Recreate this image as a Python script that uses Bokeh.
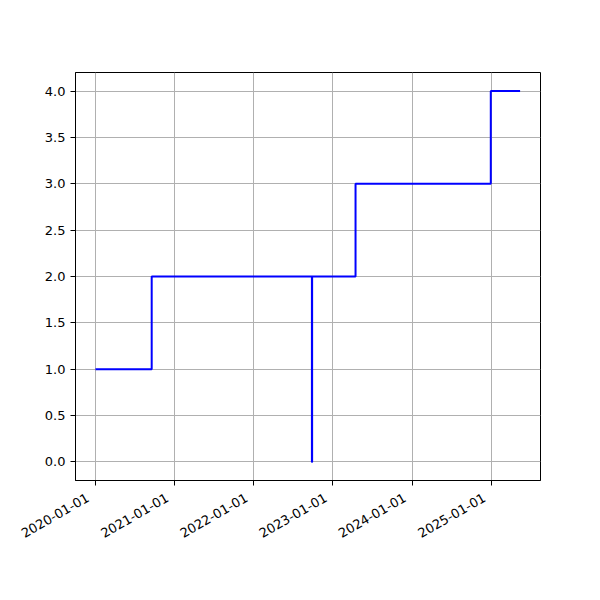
import math
from datetime import datetime
from bokeh.plotting import figure
from bokeh.models import Range1d, FixedTicker, SingleIntervalTicker, NumeralTickFormatter
from bokeh.embed import file_html
from bokeh.resources import INLINE

# data (step, post)
dates = ["2020-01-03", "2020-09-18", "2022-09-26", "2022-09-27", "2023-04-15", "2024-12-28", "2025-05-12"]
values = [1, 2, 0, 2, 3, 4, 4]
tick_dates = ["2020-01-01", "2021-01-01", "2022-01-01", "2023-01-01", "2024-01-01", "2025-01-01"]

def ms(s):
    return (datetime.strptime(s, "%Y-%m-%d") - datetime(1970, 1, 1)).total_seconds() * 1000.0

xs = [datetime.strptime(d, "%Y-%m-%d") for d in dates]

p = figure(width=592, height=592, x_axis_type="datetime",
           output_backend="svg", toolbar_location=None,
           x_range=Range1d(datetime(2019, 10, 3), datetime(2025, 8, 14)),
           y_range=Range1d(-0.2, 4.2),
           min_border_left=75, min_border_right=52, min_border_top=72, min_border_bottom=112)

p.step(xs, values, mode="after", line_color="#0000ff", line_width=2)

p.xaxis.ticker = FixedTicker(ticks=[ms(t) for t in tick_dates])
p.xaxis.major_label_overrides = {ms(t): t + "\u00a0\u00a0" for t in tick_dates}
p.xaxis.major_label_orientation = math.pi / 6
p.yaxis.ticker = SingleIntervalTicker(interval=0.5)
p.yaxis.formatter = NumeralTickFormatter(format="0.0")

for ax in (p.xaxis, p.yaxis):
    ax.major_label_text_font = "DejaVu Sans"
    ax.major_label_text_font_size = "13px"
    ax.major_label_text_color = "black"
    ax.axis_line_color = "black"
    ax.axis_line_width = 1
    ax.major_tick_line_color = "black"
    ax.major_tick_in = 0
    ax.major_tick_out = 5
    ax.minor_tick_line_color = None
    ax.major_label_standoff = 5
p.xaxis.major_label_standoff = 7

p.grid.grid_line_color = "#b0b0b0"
p.grid.grid_line_width = 1
p.outline_line_color = "black"
p.outline_line_width = 1
p.outline_line_alpha = 1
p.background_fill_color = "white"
p.border_fill_color = "white"

open("out.html", "w").write(file_html(p, INLINE))
